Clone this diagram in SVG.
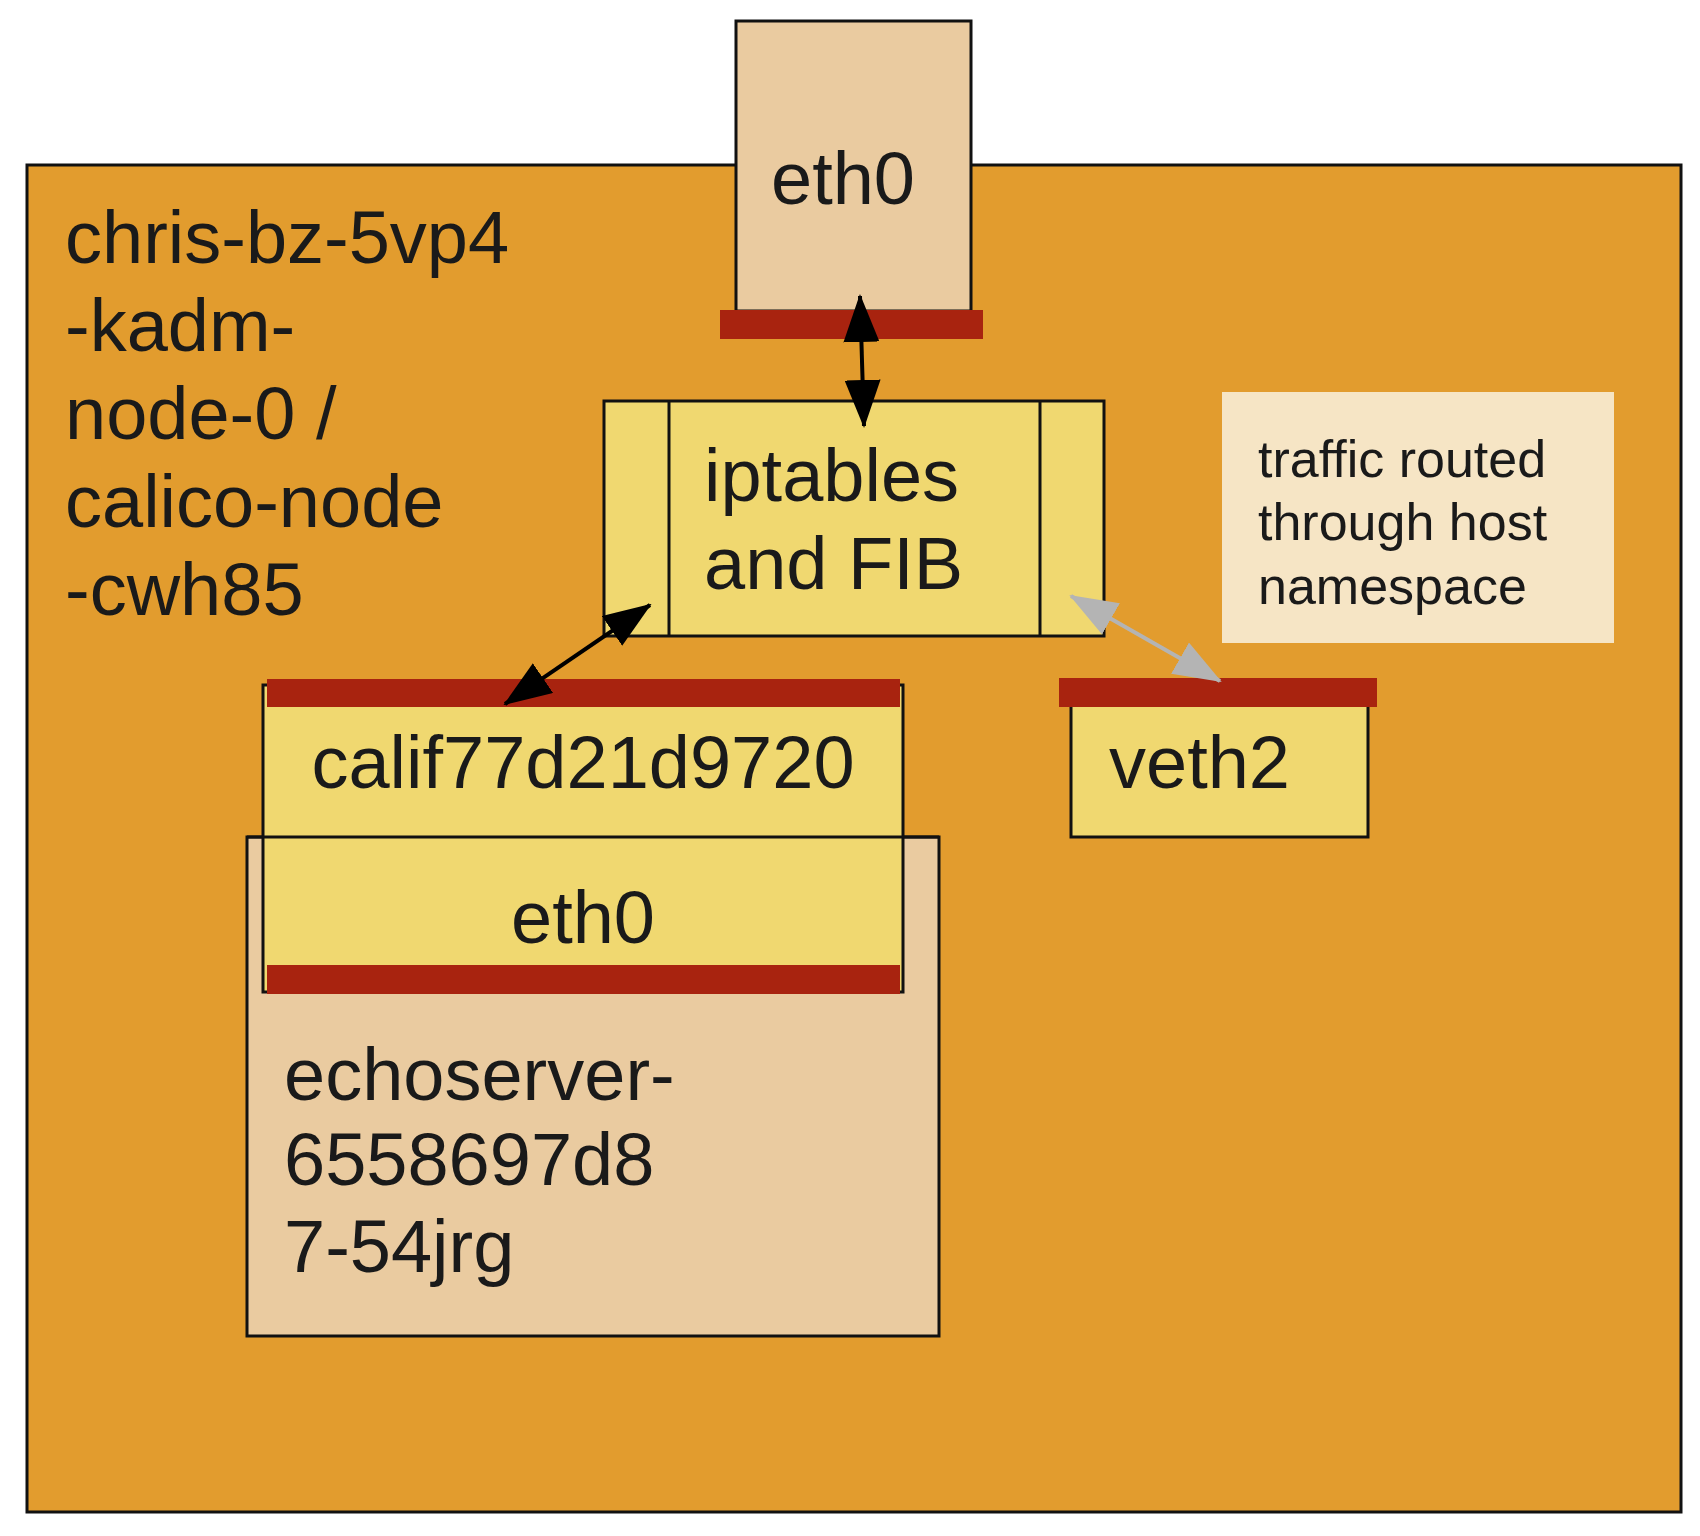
<svg xmlns="http://www.w3.org/2000/svg" width="1700" height="1536" viewBox="0 0 1700 1536">
<defs>
<style>
.t{font-family:"Liberation Sans",Arial,sans-serif;font-size:74px;fill:#1a1a1a}
.n{font-family:"Liberation Sans",Arial,sans-serif;font-size:52px;fill:#1a1a1a}
.bx{stroke:#111;stroke-width:3}
.red{fill:#a8230f}
</style>
<marker id="ab" markerUnits="userSpaceOnUse" viewBox="0 0 48 36" markerWidth="48" markerHeight="36" refX="46" refY="18" orient="auto-start-reverse"><path d="M0,0 L48,18 L0,36 z" fill="#000"/></marker>
<marker id="ag" markerUnits="userSpaceOnUse" viewBox="0 0 48 36" markerWidth="48" markerHeight="36" refX="46" refY="18" orient="auto-start-reverse"><path d="M0,0 L48,18 L0,36 z" fill="#b4b4b4"/></marker>
</defs>
<rect width="1700" height="1536" fill="#fff"/>
<g id="host">
<rect class="bx" x="27" y="165" width="1654" height="1347" fill="#e29c2e"/>
<text class="t" x="65"><tspan x="65" y="263">chris-bz-5vp4</tspan><tspan x="65" y="351">-kadm-</tspan><tspan x="65" y="439">node-0 /</tspan><tspan x="65" y="527">calico-node</tspan><tspan x="65" y="615">-cwh85</tspan></text>
</g>
<g id="eth0-host">
<rect class="bx" x="736" y="21" width="235" height="290" fill="#eacba0"/>
<text class="t" x="843" y="204" text-anchor="middle">eth0</text>
<rect class="red" x="720" y="310" width="263" height="29"/>
</g>
<g id="iptables">
<rect class="bx" x="604" y="401" width="500" height="235" fill="#f0d870"/>
<line class="bx" x1="669" y1="401" x2="669" y2="636"/>
<line class="bx" x1="1040" y1="401" x2="1040" y2="636"/>
<text class="t"><tspan x="704" y="501">iptables</tspan><tspan x="704" y="589">and FIB</tspan></text>
</g>
<g id="note">
<rect x="1222" y="392" width="392" height="251" fill="#f6e5c5"/>
<text class="n"><tspan x="1258" y="477">traffic routed</tspan><tspan x="1258" y="540">through host</tspan><tspan x="1258" y="604">namespace</tspan></text>
</g>
<g id="pod">
<rect class="bx" x="247" y="837" width="692" height="499" fill="#eacba0"/>
<text class="t"><tspan x="284" y="1100">echoserver-</tspan><tspan x="284" y="1185">6558697d8</tspan><tspan x="284" y="1272">7-54jrg</tspan></text>
</g>
<g id="calif">
<rect class="bx" x="263" y="685" width="640" height="307" fill="#f0d870"/>
<line class="bx" x1="247" y1="837" x2="939" y2="837"/>
<rect class="red" x="267" y="679" width="633" height="28"/>
<rect class="red" x="267" y="965" width="633" height="29"/>
<text class="t" x="583" y="788" text-anchor="middle">calif77d21d9720</text>
<text class="t" x="583" y="943" text-anchor="middle">eth0</text>
</g>
<g id="veth2">
<rect class="bx" x="1071" y="694" width="297" height="143" fill="#f0d870"/>
<rect class="red" x="1059" y="678" width="318" height="29"/>
<text class="t" x="1109" y="788">veth2</text>
</g>
<g id="connectors" stroke-width="4" fill="none">
<line x1="860" y1="296" x2="864" y2="426" stroke="#000" marker-start="url(#ab)" marker-end="url(#ab)"/>
<line x1="650" y1="605" x2="505" y2="704" stroke="#000" marker-start="url(#ab)" marker-end="url(#ab)"/>
<line x1="1071" y1="596" x2="1220" y2="681" stroke="#b4b4b4" marker-start="url(#ag)" marker-end="url(#ag)"/>
</g>
</svg>
